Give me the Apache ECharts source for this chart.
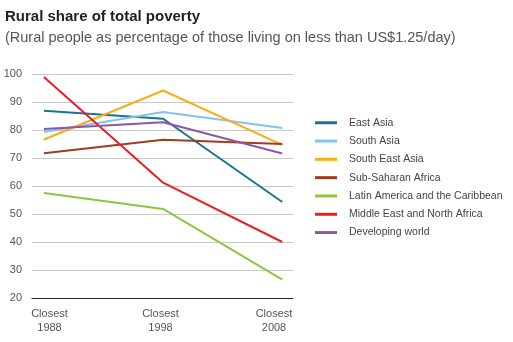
<!DOCTYPE html>
<html><head><meta charset="utf-8">
<script src="https://cdn.jsdelivr.net/npm/echarts@6/dist/echarts.min.js"></script>
<style>html,body{margin:0;padding:0;background:#fff}#c{width:513px;height:342px}</style>
</head><body><div id="c"></div>
<script>
const categories = ['Closest\n1988', 'Closest\n1998', 'Closest\n2008'];
const seriesNames = ['East Asia', 'South Asia', 'South East Asia', 'Sub-Saharan Africa', 'Latin America and the Caribbean', 'Middle East and North Africa', 'Developing world'];
const eastAsia = [86.9, 84.0, 54.3];
const southAsia = [79.3, 86.4, 80.7];
const southEastAsia = [76.6, 94.1, 74.7];
const subSaharanAfrica = [71.7, 76.5, 75.0];
const latinAmerica = [57.5, 51.8, 26.6];
const middleEast = [98.9, 61.2, 40.0];
const developingWorld = [80.4, 82.8, 71.6];
const yTicks = [20, 30, 40, 50, 60, 70, 80, 90, 100];
const colors = ['#1b7391', '#82c4ea', '#fbab18', '#a23a1e', '#8cc63e', '#ec1c24', '#8a57a9'];
const allValues = [eastAsia, southAsia, southEastAsia, subSaharanAfrica, latinAmerica, middleEast, developingWorld];

const font = '"Liberation Sans", Arial, Helvetica, sans-serif';
const chart = echarts.init(document.getElementById('c'), null, {renderer: 'canvas'});
chart.setOption({
  animation: false,
  textStyle: {fontFamily: font},
  title: [
    {text: 'Rural share of total poverty', left: 0, top: 4, textStyle: {fontSize: 15, fontWeight: 'bold', color: '#222', fontFamily: font}},
    {text: '(Rural people as percentage of those living on less than US$1.25/day)', left: 0, top: 25, textStyle: {fontSize: 14.5, fontWeight: 'normal', color: '#555', fontFamily: font}}
  ],
  legend: {
    orient: 'vertical', left: 310, top: 111, itemWidth: 22, itemHeight: 3, itemGap: 4.8,
    icon: 'rect',
    data: seriesNames.map((n, i) => ({name: n, itemStyle: {color: colors[i]}})),
    textStyle: {fontSize: 10.5, color: '#444', fontFamily: font, padding: [0, 0, 0, 7], lineHeight: 13.5, height: 13.5}
  },
  grid: {left: 32, right: 220, top: 74, bottom: 44, outerBoundsMode: 'none', containLabel: false},
  xAxis: [
    {
      type: 'category', data: categories, boundaryGap: false,
      axisLine: {show: true, lineStyle: {color: '#222', width: 1}},
      axisTick: {show: false}, splitLine: {show: false},
      axisLabel: {
        fontSize: 11, color: '#555', lineHeight: 14, margin: 9, interval: 0,
        formatter: function (v, i) { return i === 0 ? '{a|' + v + '}' : (i === 2 ? '{c|' + v + '}' : '{b|' + v + '}'); },
        rich: {
          a: {fontSize: 11, color: '#555', lineHeight: 14, padding: [0, 0, 0, 35], align: 'center'},
          b: {fontSize: 11, color: '#555', lineHeight: 14, padding: [0, 4, 0, 0], align: 'center'},
          c: {fontSize: 11, color: '#555', lineHeight: 14, padding: [0, 38, 0, 0], align: 'center'}
        }
      }
    },
    {type: 'value', min: -0.1, max: 2.09, show: false}
  ],
  yAxis: {
    type: 'value', min: 20, max: 100, interval: 10,
    axisLine: {show: false}, axisTick: {show: false},
    axisLabel: {fontSize: 11, color: '#555', margin: 10, formatter: v => yTicks.includes(v) ? String(v) : ''},
    splitLine: {lineStyle: {color: '#c9c9c9', width: 1}}
  },
  series: seriesNames.map((n, i) => ({
    name: n, type: 'line', xAxisIndex: 1, showSymbol: false, symbol: 'none',
    lineStyle: {color: colors[i], width: 2}, itemStyle: {color: colors[i]},
    data: allValues[i].map((v, k) => [k, v])
  }))
});
</script></body></html>
